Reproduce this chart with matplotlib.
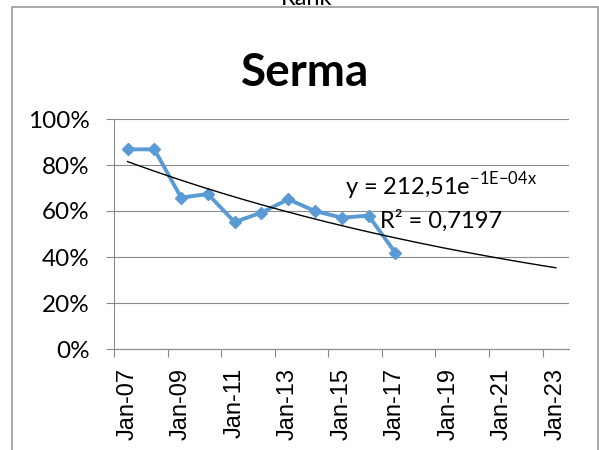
import numpy as np
import matplotlib
matplotlib.use("Agg")
import matplotlib.pyplot as plt
import matplotlib.dates as mdates
import matplotlib.transforms as mtransforms
from matplotlib.patches import Rectangle
from matplotlib.ticker import PercentFormatter
from datetime import datetime

# yearly values
years = [2007, 2008, 2009, 2010, 2011, 2012, 2013, 2014, 2015, 2016, 2017]
values = [0.868, 0.868, 0.658, 0.674, 0.552, 0.593, 0.651, 0.600, 0.571, 0.580, 0.419]
tick_years = [2007, 2009, 2011, 2013, 2015, 2017, 2019, 2021, 2023]
eq_text = r"y = 212,51e$^{\mathregular{-1E{-}04x}}$"
r2_text = "R² = 0,7197"

plt.rcParams['mathtext.fontset'] = 'custom'
plt.rcParams['mathtext.rm'] = 'Lato'

dates = [datetime(y, 7, 1) for y in years]
trend_end = datetime(2023, 7, 1)

# exponential trendline (least squares on log values, like Excel)
x = mdates.date2num(dates)
coef = np.polyfit(x, np.log(values), 1)
xt = np.linspace(x[0], mdates.date2num(trend_end), 200)
yt = np.exp(np.polyval(coef, xt))

fig = plt.figure(figsize=(5.99, 4.5), dpi=100)
ax = fig.add_axes([114.3/599, 1-349/450, 455/599, 230/450])

ax.plot(dates, values, color="#5B9BD5", lw=2.8, marker="D", ms=6.3,
        mec="#5B9BD5", zorder=3)
ax.plot(mdates.num2date(xt), yt, color="black", lw=1.0, zorder=4)

ax.set_xlim(datetime(2007, 1, 1), datetime(2024, 1, 1))
ax.set_xticks([datetime(y, 1, 1) for y in tick_years])
ax.xaxis.set_major_formatter(mdates.DateFormatter("%b-%y"))
ax.set_ylim(0, 1)
ax.set_yticks(np.arange(0, 1.01, 0.2))
ax.yaxis.set_major_formatter(PercentFormatter(1.0, decimals=0))

grey = "#8a8a8a"
ax.yaxis.grid(True, color=grey, lw=0.8)
ax.set_axisbelow(True)
for s in ["top", "right"]:
    ax.spines[s].set_visible(False)
for s in ["left", "bottom"]:
    ax.spines[s].set_color(grey)
    ax.spines[s].set_linewidth(0.8)

ax.tick_params(axis="y", length=5.8, width=0.8, color=grey, pad=12)
ax.tick_params(axis="x", length=5.5, width=0.8, color=grey, pad=8)
for lbl in ax.get_yticklabels():
    lbl.set_fontfamily("Lato")
    lbl.set_fontsize(17.5)
off = mtransforms.ScaledTranslation(13/100, 0, fig.dpi_scale_trans)
for lbl in ax.get_xticklabels():
    lbl.set_fontfamily("Liberation Sans")
    lbl.set_fontsize(17)
    lbl.set_rotation(90)
    lbl.set_transform(lbl.get_transform() + off)

ax.text(0.718, 0.670, eq_text, transform=ax.transAxes, ha="center",
        va="baseline", fontsize=17, family="Lato")
ax.text(0.718, 0.526, r2_text, transform=ax.transAxes, ha="center",
        va="baseline", fontsize=17, family="Lato")

fig.text(305/599, 1-86/450, "Serma", ha="center", va="baseline",
         fontsize=33, fontweight="bold", family="Lato")
fig.text(307/599, 1-5/450, "Rank", ha="center", va="baseline",
         fontsize=17, family="Lato")

fig.add_artist(Rectangle((12/599, -0.05), (598-12)/599, 1-7/450+0.05,
                         transform=fig.transFigure, fill=False,
                         ec="#999999", lw=1.2))

fig.savefig("out.png", dpi=100)
